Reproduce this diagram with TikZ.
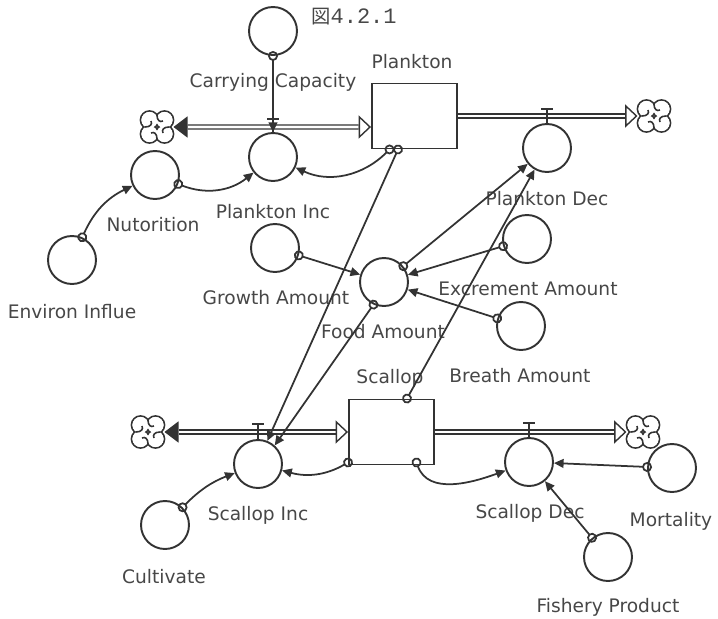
\documentclass[tikz,border=0pt]{standalone}
\usepackage{fontspec}
\setmainfont{DejaVu Sans}
\newfontfamily\cjk{Noto Sans CJK JP}
\newfontfamily\typew{Liberation Mono}
\usetikzlibrary{arrows.meta}

\definecolor{ink}{gray}{0.2}
\definecolor{txt}{gray}{0.28}

\tikzset{
  aux/.style={circle, draw=ink, line width=1.1pt, minimum size=0.96cm, inner sep=0pt},
  level/.style={rectangle, draw=ink, line width=1.1pt, minimum width=1.7cm, minimum height=1.3cm},
  lbl/.style={text=txt, font=\fontsize{10.6}{12}\selectfont, inner sep=0pt},
  link/.style={draw=ink, line width=1pt, shorten <=-2.8pt,
    {Circle[open,length=5.6pt,width=5.6pt]}-{Triangle[length=5.5pt,width=5pt]}},
  pipe/.style={draw=ink, double=white, double distance=1.5pt, line width=0.75pt},
  biflow/.style={tips, color=ink, line width=0.8pt,
    {Triangle[length=8pt,width=12pt]}-{Triangle[open,length=7pt,width=13pt]}},
  outflow/.style={tips, color=ink, line width=0.8pt, -{Triangle[open,length=7pt,width=13pt]}},
  valve/.style={draw=ink, line width=1pt},
  sink/.pic={
    \foreach \sx/\sy in {1/1,-1/1,1/-1,-1/-1}
      \draw[ink, line width=1pt] (\sx*0.15cm,\sy*0.14cm) circle [radius=0.18cm];
    \foreach \sx/\sy in {1/1,-1/1,1/-1,-1/-1}
      \fill[white] (\sx*0.15cm,\sy*0.14cm) circle [radius=0.18cm-0.5pt];
    \foreach \a in {0,90,180,270}
      \draw[ink, line width=0.9pt, rotate=\a] (0,0.24cm) .. controls (0,0.13cm) and (0.06cm,0.09cm) .. (0.12cm,0.12cm);
  }
}

\begin{document}
\begin{tikzpicture}[x=0.02cm, y=-0.02cm]
  \useasboundingbox (0,0) rectangle (718,619);

  % stocks and converters
  \node[level] (Plankton) at (414.5,116) {};
  \node[level] (Scallop) at (391.5,432) {};
  \node[aux] (CarryCap) at (273,31) {};
  \node[aux] (PlanktonInc) at (273,157) {};
  \node[aux] (Nutorition) at (155,175) {};
  \node[aux] (Environ) at (72,260) {};
  \node[aux] (PlanktonDec) at (547,148) {};
  \node[aux] (Growth) at (275,248) {};
  \node[aux] (Food) at (384,282) {};
  \node[aux] (Excrement) at (527,239) {};
  \node[aux] (Breath) at (521,326) {};
  \node[aux] (ScallopInc) at (258,464) {};
  \node[aux] (ScallopDec) at (529,462) {};
  \node[aux] (Mortality) at (672,468) {};
  \node[aux] (Fishery) at (608,557) {};
  \node[aux] (Cultivate) at (165,525) {};

  % labels
  \node[text=txt, inner sep=0pt] (Title) at (354,17) {{\cjk\fontsize{11}{12}\selectfont 図}{\typew\fontsize{12.5}{13}\selectfont 4.2.1}};
  \node[lbl] (CarryCapLbl) at (273,82) {Carrying Capacity};
  \node[lbl] (PlanktonLbl) at (412,62) {Plankton};
  \node[lbl] (PlanktonIncLbl) at (273,212) {Plankton Inc};
  \node[lbl] (NutoritionLbl) at (153,225) {Nutorition};
  \node[lbl] (EnvironLbl) at (72,312) {Environ Influe};
  \node[lbl] (PlanktonDecLbl) at (547,199) {Plankton Dec};
  \node[lbl] (GrowthLbl) at (276,298) {Growth Amount};
  \node[lbl] (FoodLbl) at (383,332) {Food Amount};
  \node[lbl] (ExcrementLbl) at (528,289) {Excrement Amount};
  \node[lbl] (BreathLbl) at (520,376) {Breath Amount};
  \node[lbl] (ScallopLbl) at (390,378) {Scallop};
  \node[lbl] (ScallopIncLbl) at (258,515) {Scallop Inc};
  \node[lbl] (ScallopDecLbl) at (530,513) {Scallop Dec};
  \node[lbl] (MortalityLbl) at (671,521) {Mortality};
  \node[lbl] (FisheryLbl) at (608,607) {Fishery Product};
  \node[lbl] (CultivateLbl) at (164,577) {Cultivate};

  % clouds
  \coordinate (PinCloud) at (157,127);
  \coordinate (PoutCloud) at (654,116);
  \coordinate (SinCloud) at (148,432);
  \coordinate (SoutCloud) at (643,432);
  \pic at (PinCloud) {sink};
  \pic at (PoutCloud) {sink};
  \pic at (SinCloud) {sink};
  \pic at (SoutCloud) {sink};

  % flows
  \draw[pipe, shorten <=8pt, shorten >=7pt] ([xshift=0.33cm]PinCloud) -- ([yshift=-0.22cm]Plankton.west);
  \path[biflow] ([xshift=0.33cm]PinCloud) -- ([yshift=-0.22cm]Plankton.west);
  \draw[pipe, shorten >=7pt] (Plankton.east) -- ([xshift=-0.33cm]PoutCloud);
  \path[outflow] (Plankton.east) -- ([xshift=-0.33cm]PoutCloud);
  \draw[pipe, shorten <=8pt, shorten >=7pt] ([xshift=0.33cm]SinCloud) -- (Scallop.west);
  \path[biflow] ([xshift=0.33cm]SinCloud) -- (Scallop.west);
  \draw[pipe, shorten >=7pt] (Scallop.east) -- ([xshift=-0.33cm]SoutCloud);
  \path[outflow] (Scallop.east) -- ([xshift=-0.33cm]SoutCloud);

  % valves
  \draw[valve] (PlanktonInc.north) -- ++(0,-13) ++(-6,0) -- ++(12,0);
  \draw[valve] (PlanktonDec.north) -- ++(0,-14) ++(-6,0) -- ++(12,0);
  \draw[valve] (ScallopInc.north) -- ++(0,-15) ++(-6,0) -- ++(12,0);
  \draw[valve] (ScallopDec.north) -- ++(0,-14) ++(-6,0) -- ++(12,0);

  % connectors
  \draw[link] (CarryCap) -- (PlanktonInc);
  \draw[link] (Environ) to[bend left=20] (Nutorition);
  \draw[link] (Nutorition) to[bend right=30] (PlanktonInc);
  \draw[link] ([xshift=-0.5cm]Plankton.south) to[out=225, in=-25] (PlanktonInc);
  \draw[link] ([xshift=-0.33cm]Plankton.south) -- (ScallopInc.68);
  \draw[link] (Growth) -- (Food);
  \draw[link] (Excrement) -- (Food);
  \draw[link] (Breath) -- (Food);
  \draw[link] (Food) -- (PlanktonDec);
  \draw[link] ([xshift=0.31cm]Scallop.north) -- (PlanktonDec.240);
  \draw[link] (Food.245) -- (ScallopInc.48);
  \draw[link] ([yshift=0.06cm]Scallop.south west) to[out=210, in=-15] (ScallopInc);
  \draw[link] ([xshift=0.5cm,yshift=0.06cm]Scallop.south) to[out=-70, in=200] (ScallopDec);
  \draw[link] (Mortality) -- (ScallopDec);
  \draw[link] (Fishery) -- (ScallopDec);
  \draw[link] (Cultivate) to[bend left=12] (ScallopInc);
\end{tikzpicture}
\end{document}
